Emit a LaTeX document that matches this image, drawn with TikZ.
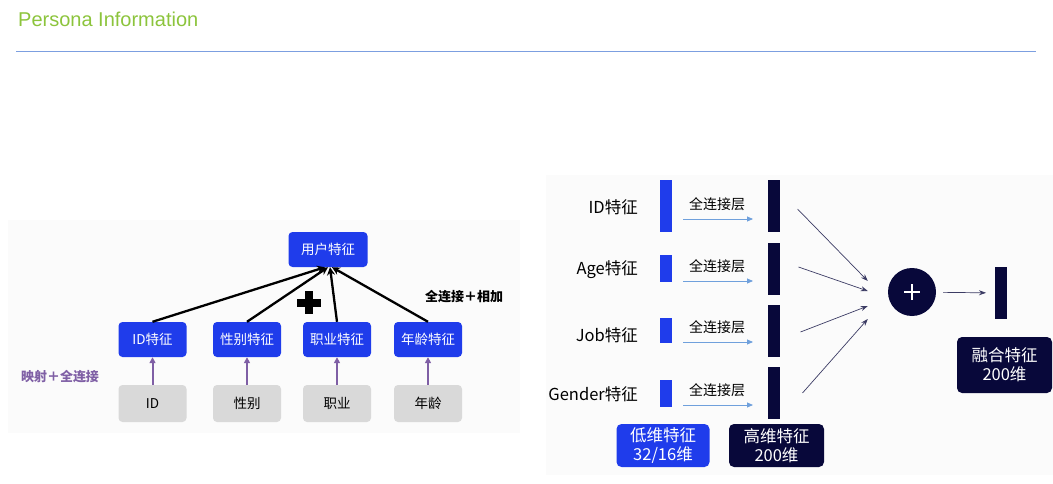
\documentclass[tikz,border=0pt]{standalone}
\usepackage{fontspec}
\setmainfont{Noto Sans CJK SC}
\newfontfamily\titlefont{Liberation Sans}
\usepackage{xcolor}
\usetikzlibrary{arrows.meta}

\definecolor{featblue}{HTML}{1F3CEB}
\definecolor{deepnavy}{HTML}{08083A}
\definecolor{rawgray}{HTML}{D9D9D9}
\definecolor{mappurple}{HTML}{7F5FA5}
\definecolor{titlegreen}{HTML}{8CC43C}
\definecolor{ruleblue}{HTML}{7C9FE0}
\definecolor{fcblue}{HTML}{6FA0DC}
\definecolor{mergegray}{HTML}{3C3C64}
\definecolor{panelwhite}{HTML}{FBFBFB}

\begin{document}
\begin{tikzpicture}[x=1pt,y=-1pt,
    featbox/.style={fill=featblue, text=white, rounded corners=4pt, inner sep=0pt,
        minimum width=68pt, minimum height=35pt, font=\fontsize{13.5}{15}\selectfont},
    rawbox/.style={fill=rawgray, text=black, rounded corners=4pt, inner sep=0pt,
        minimum width=68pt, minimum height=37pt, font=\fontsize{13.5}{15}\selectfont},
    sumarrow/.style={line width=2.3pt, -{Stealth[length=8pt,width=8pt]}},
    maparrow/.style={mappurple, line width=2pt, -{Triangle[length=6pt,width=6pt]}},
    rowlabel/.style={inner sep=0pt, font=\fontsize{16.5}{18}\selectfont},
    fclabel/.style={inner sep=0pt, font=\fontsize{14}{16}\selectfont},
    lowbar/.style={fill=featblue, inner sep=0pt, outer sep=0pt, minimum width=12pt},
    highbar/.style={fill=deepnavy, inner sep=0pt, outer sep=0pt, minimum width=12pt, minimum height=52pt},
    fcarrow/.style={fcblue, line width=0.8pt, -{Triangle[length=6pt,width=5pt]}},
    mergearrow/.style={mergegray, line width=0.7pt, -{Stealth[length=7pt,width=5pt]}},
    dimbox/.style={rounded corners=5pt, text=white, inner sep=0pt, align=center,
        minimum height=43pt, font=\fontsize{16.5}{19}\selectfont}]

    \useasboundingbox (0,0) rectangle (1053,484);

    % Title and rule
    \node[anchor=west, inner sep=0pt, text=titlegreen, font=\titlefont\fontsize{20}{22}\selectfont] (title) at (18,19) {Persona Information};
    \coordinate (ruleL) at (16,52);
    \coordinate (ruleR) at (1036,52);
    \draw[ruleblue, line width=1pt] (ruleL) -- (ruleR);

    % Faint panels
    \fill[panelwhite] (8,220) rectangle (520,433);
    \fill[panelwhite] (546,175) rectangle (1053,475);

    % Left: user feature
    \node[featbox, minimum width=79pt] (user) at (328,249.5) {用户特征};

    % Left: feature boxes and raw inputs
    \foreach \nm/\fx/\flab/\rlab in {id/152.5/ID特征/ID, sex/247/性别特征/性别, job/337/职业特征/职业, age/428/年龄特征/年龄} {
        \node[featbox] (f-\nm) at (\fx,339.5) {\flab};
        \node[rawbox] (r-\nm) at (\fx,403.5) {\rlab};
        \draw[maparrow] (r-\nm) -- (f-\nm);
    }

    % Left: sum arrows
    \draw[sumarrow] (f-id.north) -- ([xshift=-3pt]user.south);
    \draw[sumarrow] (f-sex.north) -- (user.south);
    \draw[sumarrow] (f-job.north) -- ([xshift=2pt]user.south);
    \draw[sumarrow] (f-age.north) -- ([xshift=4pt]user.south);

    % Bold plus
    \fill[black] (297,298.5) rectangle (321,306.5);
    \fill[black] (305,291) rectangle (313,314);

    \node[font=\bfseries\fontsize{13}{15}\selectfont] (sumlab) at (464,297) {全连接＋相加};
    \node[text=mappurple, font=\bfseries\fontsize{13}{15}\selectfont] (maplab) at (60,377) {映射＋全连接};

    % Right: merge circle and fused bar
    \node[circle, fill=deepnavy, minimum size=48pt, inner sep=0pt] (sum) at (912,292) {};
    \draw[white, line width=1.4pt] ([xshift=-8pt]sum.center) -- ([xshift=8pt]sum.center);
    \draw[white, line width=1.4pt] ([yshift=-8pt]sum.center) -- ([yshift=8pt]sum.center);
    \node[highbar] (fused) at (1001,293) {};
    \draw[mergearrow, shorten <=7pt, shorten >=9pt] (sum) -- (fused);

    % Right: rows
    \foreach \nm/\lab/\ly/\lowy/\lowh/\hiy/\ay/\sx/\sy/\ey in {
        id/ID特征/207/206/52/206/219/18/-3/11,
        age/Age特征/270/268.5/27/269/281/19/2/1,
        job/Job特征/335/330.5/25/331/342/21/-1/-14,
        gen/Gender特征/394/393.5/27/393/405/23/0/-27} {
        \node[rowlabel, anchor=east] (lab-\nm) at (638,\ly) {\lab};
        \node[lowbar, minimum height=\lowh] (low-\nm) at (666,\lowy) {};
        \node[highbar] (high-\nm) at (773.5,\hiy) {};
        \node[fclabel] (fc-\nm) at (717,\ay-15) {全连接层};
        \coordinate (fcs-\nm) at (683,\ay);
        \coordinate (fce-\nm) at (753,\ay);
        \draw[fcarrow] (fcs-\nm) -- (fce-\nm);
        \draw[mergearrow] ([xshift=\sx pt,yshift=\sy pt]high-\nm.east) -- ([xshift=-20pt,yshift=\ey pt]sum.west);
    }

    % Right: dimension labels
    \node[dimbox, fill=featblue, minimum width=93pt] (lowdim) at (663,445.5) {低维特征\\32/16维};
    \node[dimbox, fill=deepnavy, minimum width=95pt] (highdim) at (776.5,445.5) {高维特征\\200维};
    \node[dimbox, fill=deepnavy, minimum width=95pt, minimum height=56pt] (fuseddim) at (1004.5,365) {融合特征\\200维};

\end{tikzpicture}
\end{document}
